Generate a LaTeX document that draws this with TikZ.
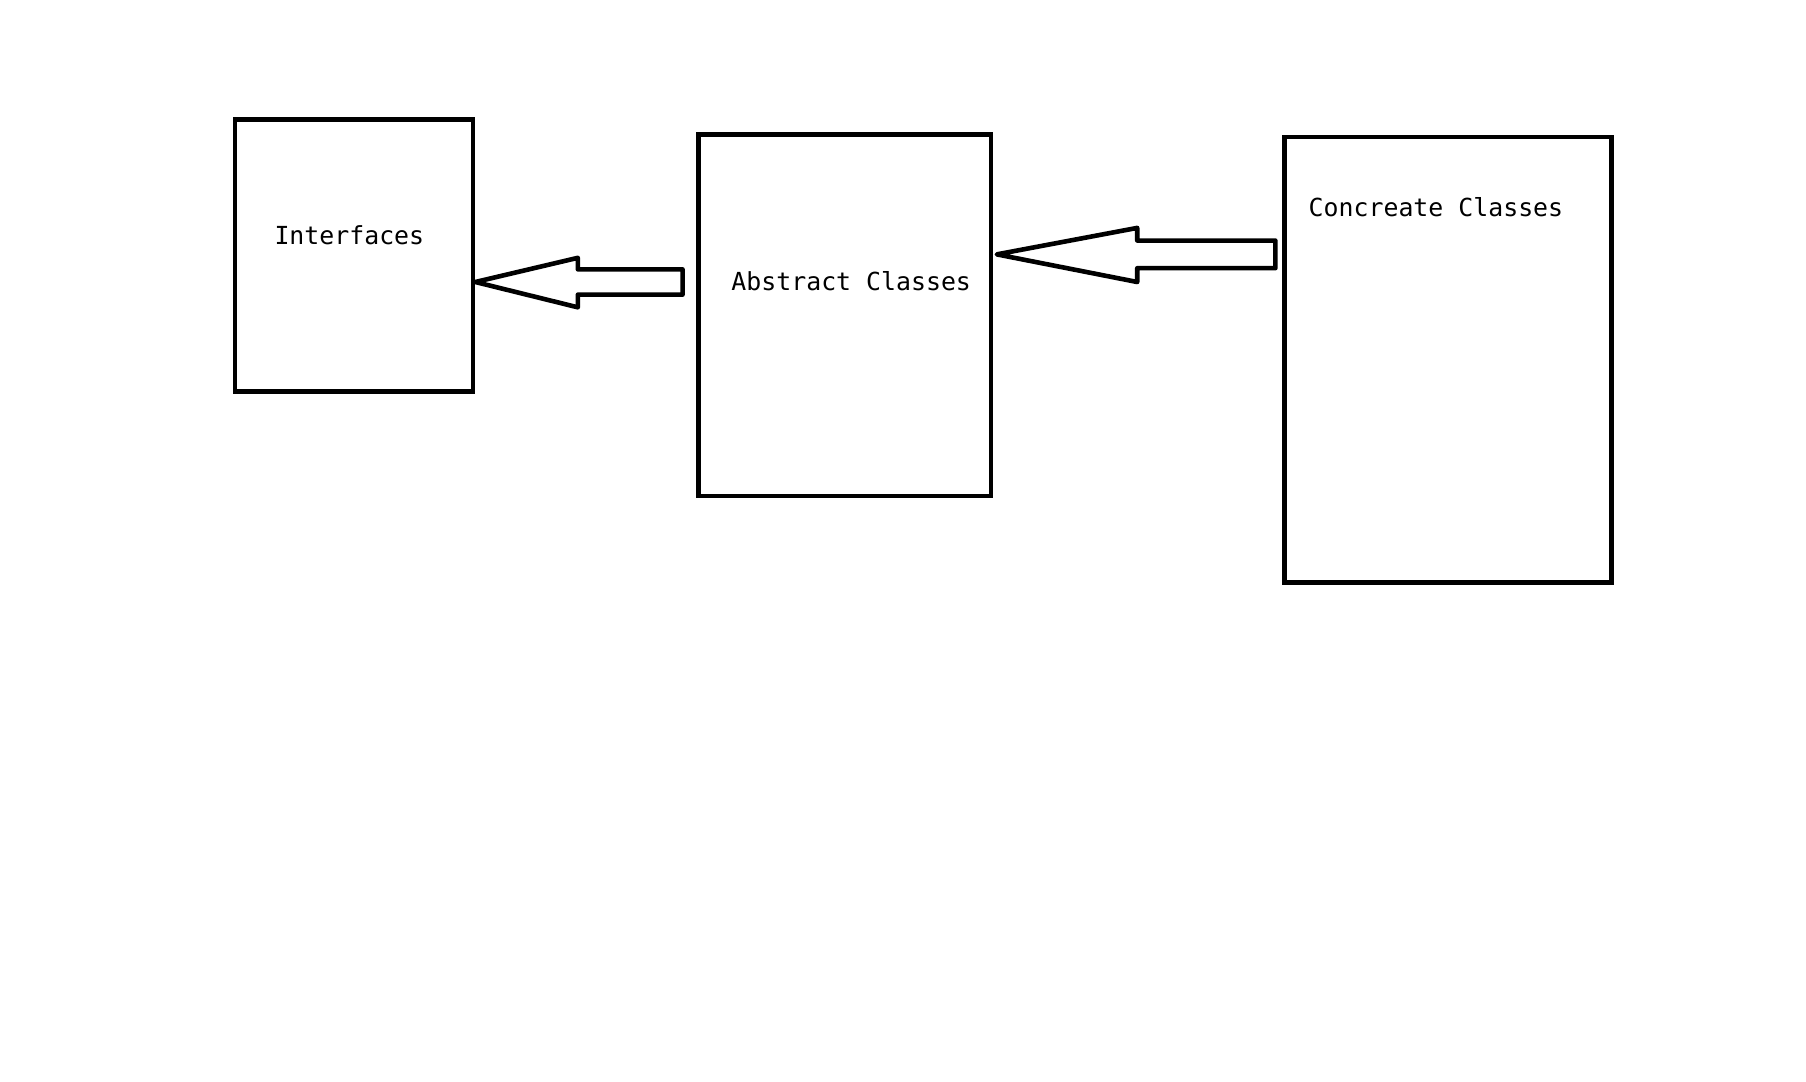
\documentclass[tikz,border=0pt]{standalone}
\usepackage{fontspec}
\setmonofont{DejaVu Sans Mono}
\begin{document}
\begin{tikzpicture}[x=0.5pt,y=-0.5pt,
  box/.style={draw=black,line width=2pt,rectangle,inner sep=0pt},
  lbl/.style={font=\ttfamily\fontsize{10.8pt}{13pt}\selectfont,inner sep=0pt},
  blockarrow/.style={draw=black,line width=2pt,fill=white,line join=round}]
\useasboundingbox (0,0) rectangle (1569,940);
\node[box,minimum width=103.5pt,minimum height=118pt] (ifc) at (307.5,222) {};
\node[box,minimum width=127pt,minimum height=157pt] (abs) at (734,274) {};
\node[box,minimum width=142pt,minimum height=193.5pt] (con) at (1258,312.5) {};
\node[lbl] (ifct) at (303.5,204) {Interfaces};
\node[lbl] (abst) at (739.5,244) {Abstract Classes};
\node[lbl] (cont) at (1247.5,180) {Concreate Classes};
\coordinate (t1) at (ifc.east |- 0,245);
\coordinate (e1) at (593,245);
\draw[blockarrow] (t1) -- (502,224) -- (502,234) -- (e1 |- 0,234) -- (e1 |- 0,256) -- (502,256) -- (502,267) -- cycle;
\coordinate (t2) at (866,221);
\coordinate (e2) at (1108,221);
\draw[blockarrow] (t2) -- (988,198) -- (988,209) -- (e2 |- 0,209) -- (e2 |- 0,233) -- (988,233) -- (988,245) -- cycle;
\end{tikzpicture}
\end{document}
